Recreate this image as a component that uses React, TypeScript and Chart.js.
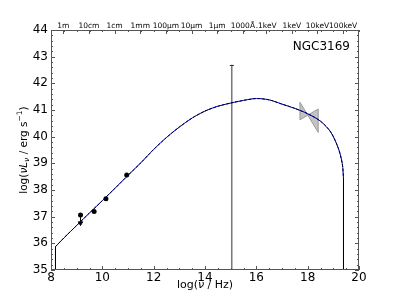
import React, { useEffect, useRef } from "react";
import { Chart, registerables } from "chart.js";

Chart.register(...registerables);

// SED model curve
const curveX = [8.175, 8.5, 9, 9.5, 10, 10.5, 11, 11.5, 12, 12.5, 13, 13.5, 14, 14.5, 15, 15.5, 16, 16.5, 17, 17.5, 18, 18.5, 18.9, 19.2, 19.35, 19.396];
const curveY = [35.875, 36.2, 36.67, 37.14, 37.6, 38.07, 38.55, 39.02, 39.52, 39.97, 40.36, 40.7, 40.96, 41.14, 41.26, 41.36, 41.43, 41.38, 41.22, 41.06, 40.86, 40.58, 40.17, 39.55, 38.98, 38.44];

// photometric points
const obsX = [9.15, 9.68, 10.14, 10.95];
const obsY = [37.06, 37.19, 37.67, 38.56];
// upper-limit arrow on the first point
const limX = [9.15, 9.15];
const limY = [37.06, 36.76];

// vertical error bar (UV)
const barX = [15.046, 15.046];
const barY = [35, 42.7];

// X-ray bowtie
const bowX = [17.7, 18.41, 18.41, 17.7];
const bowY = [41.29, 40.16, 41.04, 40.63];

// axis ticks
const xTicks = [8, 10, 12, 14, 16, 18, 20];
const yTicks = [35, 36, 37, 38, 39, 40, 41, 42, 43, 44];
const topTickPos = [8.477, 9.477, 10.477, 11.477, 12.477, 13.477, 14.477, 15.477, 16.383, 17.383, 18.383, 19.383];
const topTickLabels = ["1m", "10cm", "1cm", "1mm", "100\u03bcm", "10\u03bcm", "1\u03bcm", "1000\u00c5", ".1keV", "1keV", "10keV", "100keV"];

const objectName = "NGC3169";
const FONT = "'DejaVu Sans', sans-serif";

const decor = {
  id: "decor",
  beforeDatasetsDraw(chart: any) {
    const { ctx } = chart;
    const xs = chart.scales.x, ys = chart.scales.y;
    ctx.save();
    ctx.beginPath();
    bowX.forEach((v, i) => {
      const px = xs.getPixelForValue(v), py = ys.getPixelForValue(bowY[i]);
      if (i === 0) ctx.moveTo(px, py); else ctx.lineTo(px, py);
    });
    ctx.closePath();
    ctx.fillStyle = "rgba(190,190,190,0.9)";
    ctx.fill();
    ctx.strokeStyle = "#999";
    ctx.lineWidth = 1;
    ctx.stroke();
    ctx.restore();
  },
  afterDraw(chart: any) {
    const { ctx, chartArea: a } = chart;
    const xs = chart.scales.x, ys = chart.scales.y;
    ctx.save();
    ctx.strokeStyle = "#555";
    ctx.lineWidth = 1;
    ctx.strokeRect(Math.round(a.left) + 0.5, Math.round(a.top) + 0.5, Math.round(a.right - a.left) - 1, Math.round(a.bottom - a.top) - 1);
    ctx.beginPath();
    for (let v = 8; v <= 20.001; v += 0.5) {
      const px = Math.round(xs.getPixelForValue(v)) + 0.5;
      const major = Math.abs(v - Math.round(v / 2) * 2) < 1e-6;
      const L = major ? 4 : 2;
      ctx.moveTo(px, a.bottom);
      ctx.lineTo(px, a.bottom - L);
      ctx.moveTo(px, a.top);
      ctx.lineTo(px, a.top + 2);
    }
    topTickPos.forEach((v) => {
      const px = Math.round(xs.getPixelForValue(v)) + 0.5;
      ctx.moveTo(px, a.top);
      ctx.lineTo(px, a.top + 4);
    });
    for (let i = 0; i <= 45; i++) {
      const v = 35 + i * 0.2;
      const py = Math.round(ys.getPixelForValue(v)) + 0.5;
      const L = i % 5 === 0 ? 4 : 2;
      ctx.moveTo(a.left, py);
      ctx.lineTo(a.left + L, py);
      ctx.moveTo(a.right, py);
      ctx.lineTo(a.right - L, py);
    }
    ctx.stroke();

    const cx = xs.getPixelForValue(barX[1]);
    const cy = Math.round(ys.getPixelForValue(barY[1])) + 0.5;
    ctx.strokeStyle = "#333";
    ctx.beginPath();
    ctx.moveTo(cx - 2, cy);
    ctx.lineTo(cx + 2, cy);
    ctx.stroke();

    ctx.fillStyle = "#000";
    ctx.font = `12px ${FONT}`;
    ctx.textAlign = "right";
    ctx.textBaseline = "middle";
    ctx.fillText(objectName, 350, 47);

    const segsX: [string, string, number][] = [
      ["log(", `11px ${FONT}`, 0],
      ["\u03bd", `italic 11px ${FONT}`, 0],
      [" / Hz)", `11px ${FONT}`, 0],
    ];
    drawSegs(ctx, segsX, (a.left + a.right) / 2, 285, 0);

    const segsY: [string, string, number][] = [
      ["log(", `10.5px ${FONT}`, 0],
      ["\u03bdL", `italic 10.5px ${FONT}`, 0],
      ["\u03bd", `italic 7.5px ${FONT}`, 3],
      [" / erg s", `10.5px ${FONT}`, 0],
      ["\u22121", `7.5px ${FONT}`, -4],
      [")", `10.5px ${FONT}`, 0],
    ];
    drawSegs(ctx, segsY, 24, (a.top + a.bottom) / 2, -Math.PI / 2);
    ctx.restore();
  },
};

function drawSegs(ctx: any, segs: [string, string, number][], cx: number, cy: number, rot: number) {
  let total = 0;
  segs.forEach(([t, f]) => {
    ctx.font = f;
    total += ctx.measureText(t).width;
  });
  ctx.save();
  ctx.translate(cx, cy);
  ctx.rotate(rot);
  ctx.textAlign = "left";
  ctx.textBaseline = "middle";
  ctx.fillStyle = "#000";
  let x = -total / 2;
  segs.forEach(([t, f, dy]) => {
    ctx.font = f;
    ctx.fillText(t, x, dy);
    x += ctx.measureText(t).width;
  });
  ctx.restore();
}

const pts = (xs: number[], ys: number[]) => xs.map((x, i) => ({ x, y: ys[i] }));

export default function App() {
  const ref = useRef<HTMLCanvasElement | null>(null);
  useEffect(() => {
    if (!ref.current) return;
    const chart = new Chart(ref.current, {
      type: "scatter",
      data: {
        datasets: [
          // lower index is drawn on top
          { data: pts(obsX, obsY), showLine: false, pointRadius: 2.5, pointBackgroundColor: "#000", pointBorderColor: "#000", pointBorderWidth: 0 },
          { data: pts(limX, limY), showLine: true, borderColor: "#000", borderWidth: 1, pointRadius: [0, 2.5], pointStyle: "triangle", rotation: 180, pointBackgroundColor: "#000", pointBorderColor: "#000" },
          { data: pts(curveX, curveY), showLine: true, borderColor: "#000", borderWidth: 1, borderDash: [3, 1.5], pointRadius: 0, tension: 0.3 },
          { data: pts(curveX, curveY), showLine: true, borderColor: "#0000ff", borderWidth: 1, pointRadius: 0, tension: 0.3 },
          { data: pts([curveX[0], curveX[0]], [curveY[0], 35]), showLine: true, borderColor: "#000", borderWidth: 1, pointRadius: 0 },
          { data: pts([curveX[curveX.length - 1], curveX[curveX.length - 1]], [curveY[curveY.length - 1], 35]), showLine: true, borderColor: "#000", borderWidth: 1, pointRadius: 0 },
          { data: pts(barX, barY), showLine: true, borderColor: "#333", borderWidth: 1, pointRadius: 0 },
        ],
      },
      options: {
        responsive: false,
        animation: false,
        events: [],
        layout: { padding: { left: 0, right: 41, top: 0, bottom: 0 } },
        plugins: { legend: { display: false }, tooltip: { enabled: false } },
        scales: {
          x: {
            type: "linear",
            min: 8,
            max: 20,
            grid: { display: false, drawTicks: false },
            border: { display: false },
            afterBuildTicks: (s: any) => { s.ticks = xTicks.map((v) => ({ value: v })); },
            afterFit: (s: any) => { s.height = 30; },
            ticks: { color: "#000", font: { family: FONT, size: 12 }, padding: 1, maxRotation: 0, autoSkip: false },
          },
          x2: {
            type: "linear",
            position: "top",
            min: 8,
            max: 20,
            grid: { display: false, drawTicks: false },
            border: { display: false },
            afterBuildTicks: (s: any) => { s.ticks = topTickPos.map((v) => ({ value: v })); },
            afterFit: (s: any) => { s.height = 30; },
            ticks: {
              color: "#000",
              font: { family: FONT, size: 7.5 },
              padding: -1,
              maxRotation: 0,
              minRotation: 0,
              autoSkip: false,
              callback: (_v: any, i: number) => topTickLabels[i],
            },
          },
          y: {
            type: "linear",
            min: 35,
            max: 44,
            grid: { display: false, drawTicks: false },
            border: { display: false },
            afterBuildTicks: (s: any) => { s.ticks = yTicks.map((v) => ({ value: v })); },
            afterFit: (s: any) => { s.width = 51; },
            ticks: { color: "#000", font: { family: FONT, size: 12 }, padding: 3 },
          },
        },
      },
      plugins: [decor],
    } as any);
    return () => chart.destroy();
  }, []);
  return (
    <div style={{ position: "fixed", left: 0, top: 0, width: 400, height: 300, background: "#fff" }}>
      <canvas ref={ref} width={400} height={300} />
    </div>
  );
}
